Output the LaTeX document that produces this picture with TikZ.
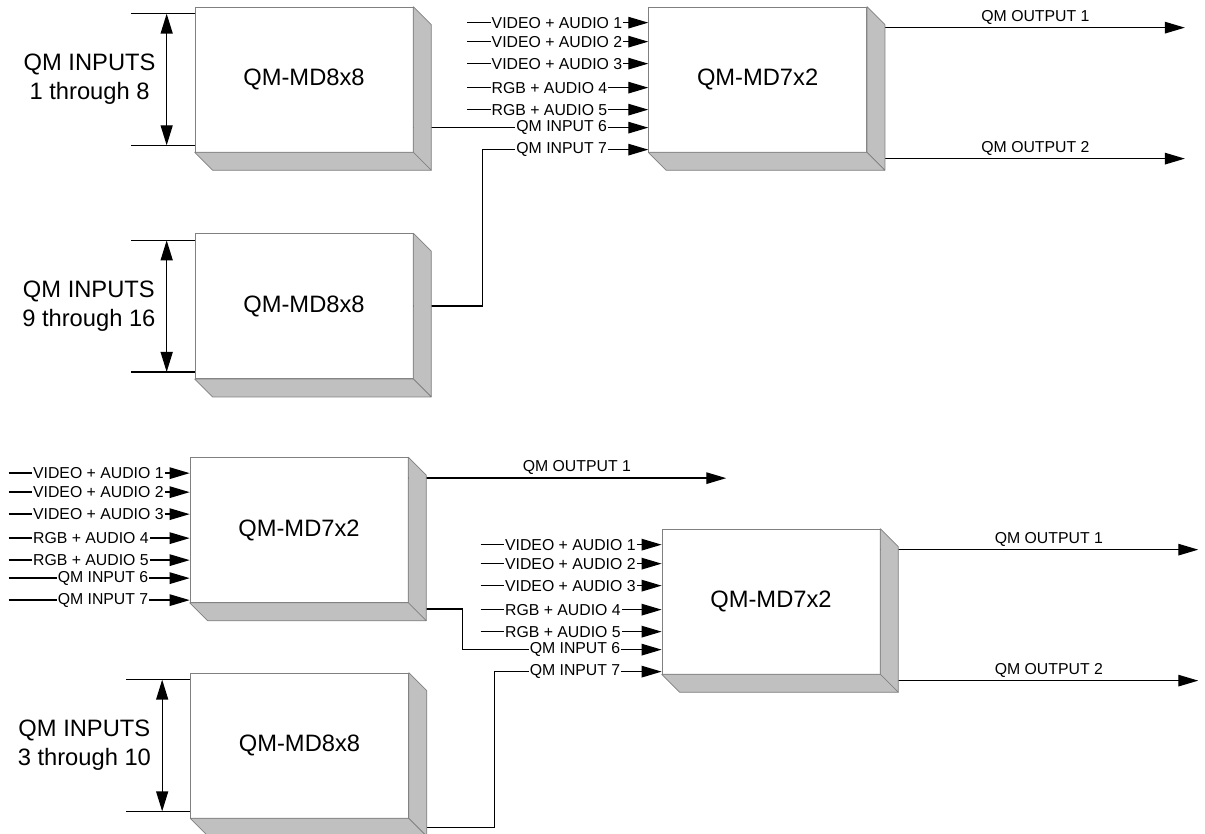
\documentclass[tikz,border=0pt]{standalone}
\usepackage{fontspec}
\setmainfont{Liberation Sans}
\usetikzlibrary{positioning,arrows.meta}
\definecolor{edgegray}{RGB}{128,128,128}
\definecolor{sidegray}{RGB}{192,192,192}

\begin{document}
\begin{tikzpicture}[
    x=0.02cm, y=-0.02cm,
    unit/.style={
        draw=edgegray,
        fill=white,
        minimum width=4.36cm,
        minimum height=2.9cm,
        inner sep=0pt,
        font=\fontsize{13.5}{16}\selectfont
    },
    side/.style={
        draw=edgegray,
        fill=sidegray,
        line join=bevel
    },
    wire/.style={
        line width=0.75pt
    },
    arr/.style={
        wire,
        -{Triangle[length=4mm, width=2.3mm]}
    },
    span/.style={
        wire,
        {Triangle[length=4mm, width=2.4mm]}-{Triangle[length=4mm, width=2.4mm]}
    },
    tag/.style={
        fill=white,
        inner xsep=0.6pt,
        inner ysep=0.5pt,
        font=\fontsize{9}{10}\selectfont
    },
    outtag/.style={
        above,
        inner sep=1.5pt,
        font=\fontsize{9}{10}\selectfont
    },
    group/.style={
        align=center,
        font=\fontsize{13.5}{16.5}\selectfont
    }
]

\useasboundingbox (0,0) rectangle (1205,834);

% switcher units
\node[unit] (mdA) at (304,79.5) {QM-MD8x8};
\node[unit, below=1.62cm of mdA] (mdB) {QM-MD8x8};
\node[unit, right=4.7cm of mdA] (mxA) {QM-MD7x2};
\node[unit] (mxB) at (299,530) {QM-MD7x2};
\node[unit] (mxC) at (771,601.5) {QM-MD7x2};
\node[unit] (mdC) at (299.5,745.5) {QM-MD8x8};

% input groups of the 8x8 units
\node[group, left=0.66cm of mdA] (grpA) {QM INPUTS\\1 through 8};
\node[group, left=0.66cm of mdB] (grpB) {QM INPUTS\\9 through 16};
\node[group, left=0.66cm of mdC] (grpC) {QM INPUTS\\3 through 10};

\foreach \b in {mdA,mdB,mdC} {
    \coordinate (\b-top) at ([yshift=-0.14cm]\b.north west);
    \coordinate (\b-bot) at ([yshift=0.14cm]\b.south west);
    \coordinate (\b-topend) at ([xshift=-1.28cm]\b-top);
    \coordinate (\b-botend) at ([xshift=-1.28cm]\b-bot);
    \draw[wire] (\b-top) -- (\b-topend);
    \draw[wire] (\b-bot) -- (\b-botend);
    \draw[span] ([xshift=-0.56cm]\b-top) -- ([xshift=-0.56cm]\b-bot);
}

% inputs and outputs of the 7x2 units
\foreach \b in {mxA,mxB,mxC} {
    \foreach \off/\txt [count=\i] in {0.32/VIDEO + AUDIO 1,0.70/VIDEO + AUDIO 2,1.14/VIDEO + AUDIO 3,1.62/RGB + AUDIO 4,2.06/RGB + AUDIO 5} {
        \coordinate (\b-in\i) at ([yshift=-\off cm]\b.north west);
        \coordinate (\b-src\i) at ([xshift=-3.62cm]\b-in\i);
        \draw[arr] (\b-src\i) -- (\b-in\i);
        \node[tag, anchor=west] (\b-tag\i) at ([xshift=-3.16cm]\b-in\i) {\txt};
    }
    \coordinate (\b-in6) at ([yshift=-2.42cm]\b.north west);
    \coordinate (\b-in7) at ([yshift=-2.86cm]\b.north west);
    \coordinate (\b-out1) at ([yshift=-0.42cm]\b.north east);
    \coordinate (\b-out2) at ([yshift=-3.04cm]\b.north east);
    \coordinate (\b-end1) at ([xshift=6.36cm]\b-out1);
    \coordinate (\b-end2) at ([xshift=6.36cm]\b-out2);
}

\draw[arr] (mxA-out1) -- (mxA-end1) node[outtag, pos=0.53] (mxA-o1) {QM OUTPUT 1};
\draw[arr] (mxA-out2) -- (mxA-end2) node[outtag, pos=0.53] (mxA-o2) {QM OUTPUT 2};
\draw[arr] (mxB-out1) -- (mxB-end1) node[outtag, pos=0.53] (mxB-o1) {QM OUTPUT 1};
\draw[arr] (mxC-out1) -- (mxC-end1) node[outtag, pos=0.53] (mxC-o1) {QM OUTPUT 1};
\draw[arr] (mxC-out2) -- (mxC-end2) node[outtag, pos=0.53] (mxC-o2) {QM OUTPUT 2};

% links between units
\draw[arr] (mdA.east |- mxA-in6) -- (mxA-in6);
\draw[arr] (mdB.east) -- ++(69,0) |- (mxA-in7);
\draw[arr] (mxB-out2) -- ++(54,0) |- (mxC-in6);
\draw[arr] ([yshift=-3.1cm]mdC.north east) -- ++(86,0) |- (mxC-in7);

\coordinate (mxB-src6) at ([xshift=-3.62cm]mxB-in6);
\coordinate (mxB-src7) at ([xshift=-3.62cm]mxB-in7);
\draw[arr] (mxB-src6) -- (mxB-in6);
\draw[arr] (mxB-src7) -- (mxB-in7);

\foreach \b in {mxA,mxB,mxC} {
    \node[tag, anchor=east] (\b-tag6) at ([xshift=-0.8cm]\b-in6) {QM INPUT 6};
    \node[tag, anchor=east] (\b-tag7) at ([xshift=-0.8cm]\b-in7) {QM INPUT 7};
}

% bevelled sides
\foreach \b in {mdA,mdB,mdC,mxA,mxB,mxC} {
    \filldraw[side] (\b.north east) -- ++(18,18) -- ([shift={(18,18)}]\b.south east) -- (\b.south east) -- cycle;
    \filldraw[side] (\b.south west) -- ++(18,18) -- ([shift={(18,18)}]\b.south east) -- (\b.south east) -- cycle;
}

\end{tikzpicture}
\end{document}
